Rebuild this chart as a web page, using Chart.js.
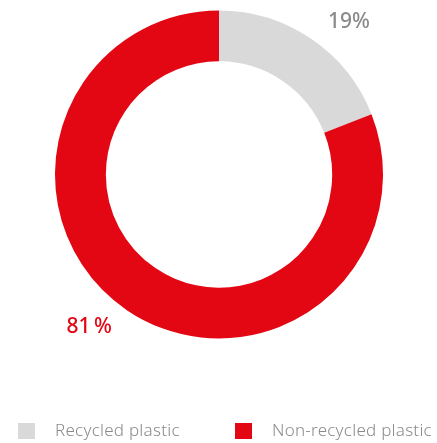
<!DOCTYPE html>
<html>
<head>
<meta charset="utf-8">
<script src="https://cdn.jsdelivr.net/npm/chart.js@4/dist/chart.umd.min.js"></script>
<style>
  html, body { margin: 0; padding: 0; background: #fff; }
  #wrap { width: 437px; height: 443px; position: relative; }
</style>
</head>
<body>
<div id="wrap"><canvas id="plasticChart"></canvas></div>
<script>
const categories = ['Recycled plastic', 'Non-recycled plastic'];
const shares = [19, 81];
const shareLabels = ['19%', '81\u2009%'];
const colors = ['#d9d9d9', '#e30613'];
const labelColors = ['#8a8a8a', '#e30613'];

// percent labels outside the ring + a flat legend row at the bottom
const ringText = {
    id: 'ringText',
    afterDraw(chart) {
        const ctx = chart.ctx;
        const arcs = chart.getDatasetMeta(0).data;
        ctx.save();
        ctx.font = '500 21px "Noto Sans", sans-serif';
        ctx.textAlign = 'center';
        ctx.textBaseline = 'middle';
        arcs.forEach((arc, i) => {
            const mid = (arc.startAngle + arc.endAngle) / 2 + 0.11;
            const r = arc.outerRadius + 36;
            ctx.fillStyle = labelColors[i];
            ctx.fillText(shareLabels[i], arc.x + Math.cos(mid) * r, arc.y + Math.sin(mid) * r);
        });

        // legend
        const legendX = [18, 235];
        const y = 431;
        ctx.font = '300 17px "Noto Sans", sans-serif';
        ctx.letterSpacing = '0.25px';
        ctx.textAlign = 'left';
        categories.forEach((name, i) => {
            ctx.fillStyle = colors[i];
            ctx.fillRect(legendX[i], y - 8, 17, 16);
            ctx.fillStyle = '#8a8a8a';
            ctx.fillText(name, legendX[i] + 37, y);
        });
        ctx.restore();
    }
};

new Chart(document.getElementById('plasticChart'), {
    type: 'doughnut',
    data: {
        labels: categories,
        datasets: [{
            data: shares,
            backgroundColor: colors,
            borderWidth: 0,
            hoverOffset: 0
        }]
    },
    options: {
        responsive: true,
        maintainAspectRatio: false,
        animation: false,
        cutout: '69%',
        layout: { padding: { top: 10, bottom: 104, left: 55, right: 54 } },
        plugins: {
            legend: { display: false },
            tooltip: { enabled: false }
        }
    },
    plugins: [ringText]
});
</script>
</body>
</html>
